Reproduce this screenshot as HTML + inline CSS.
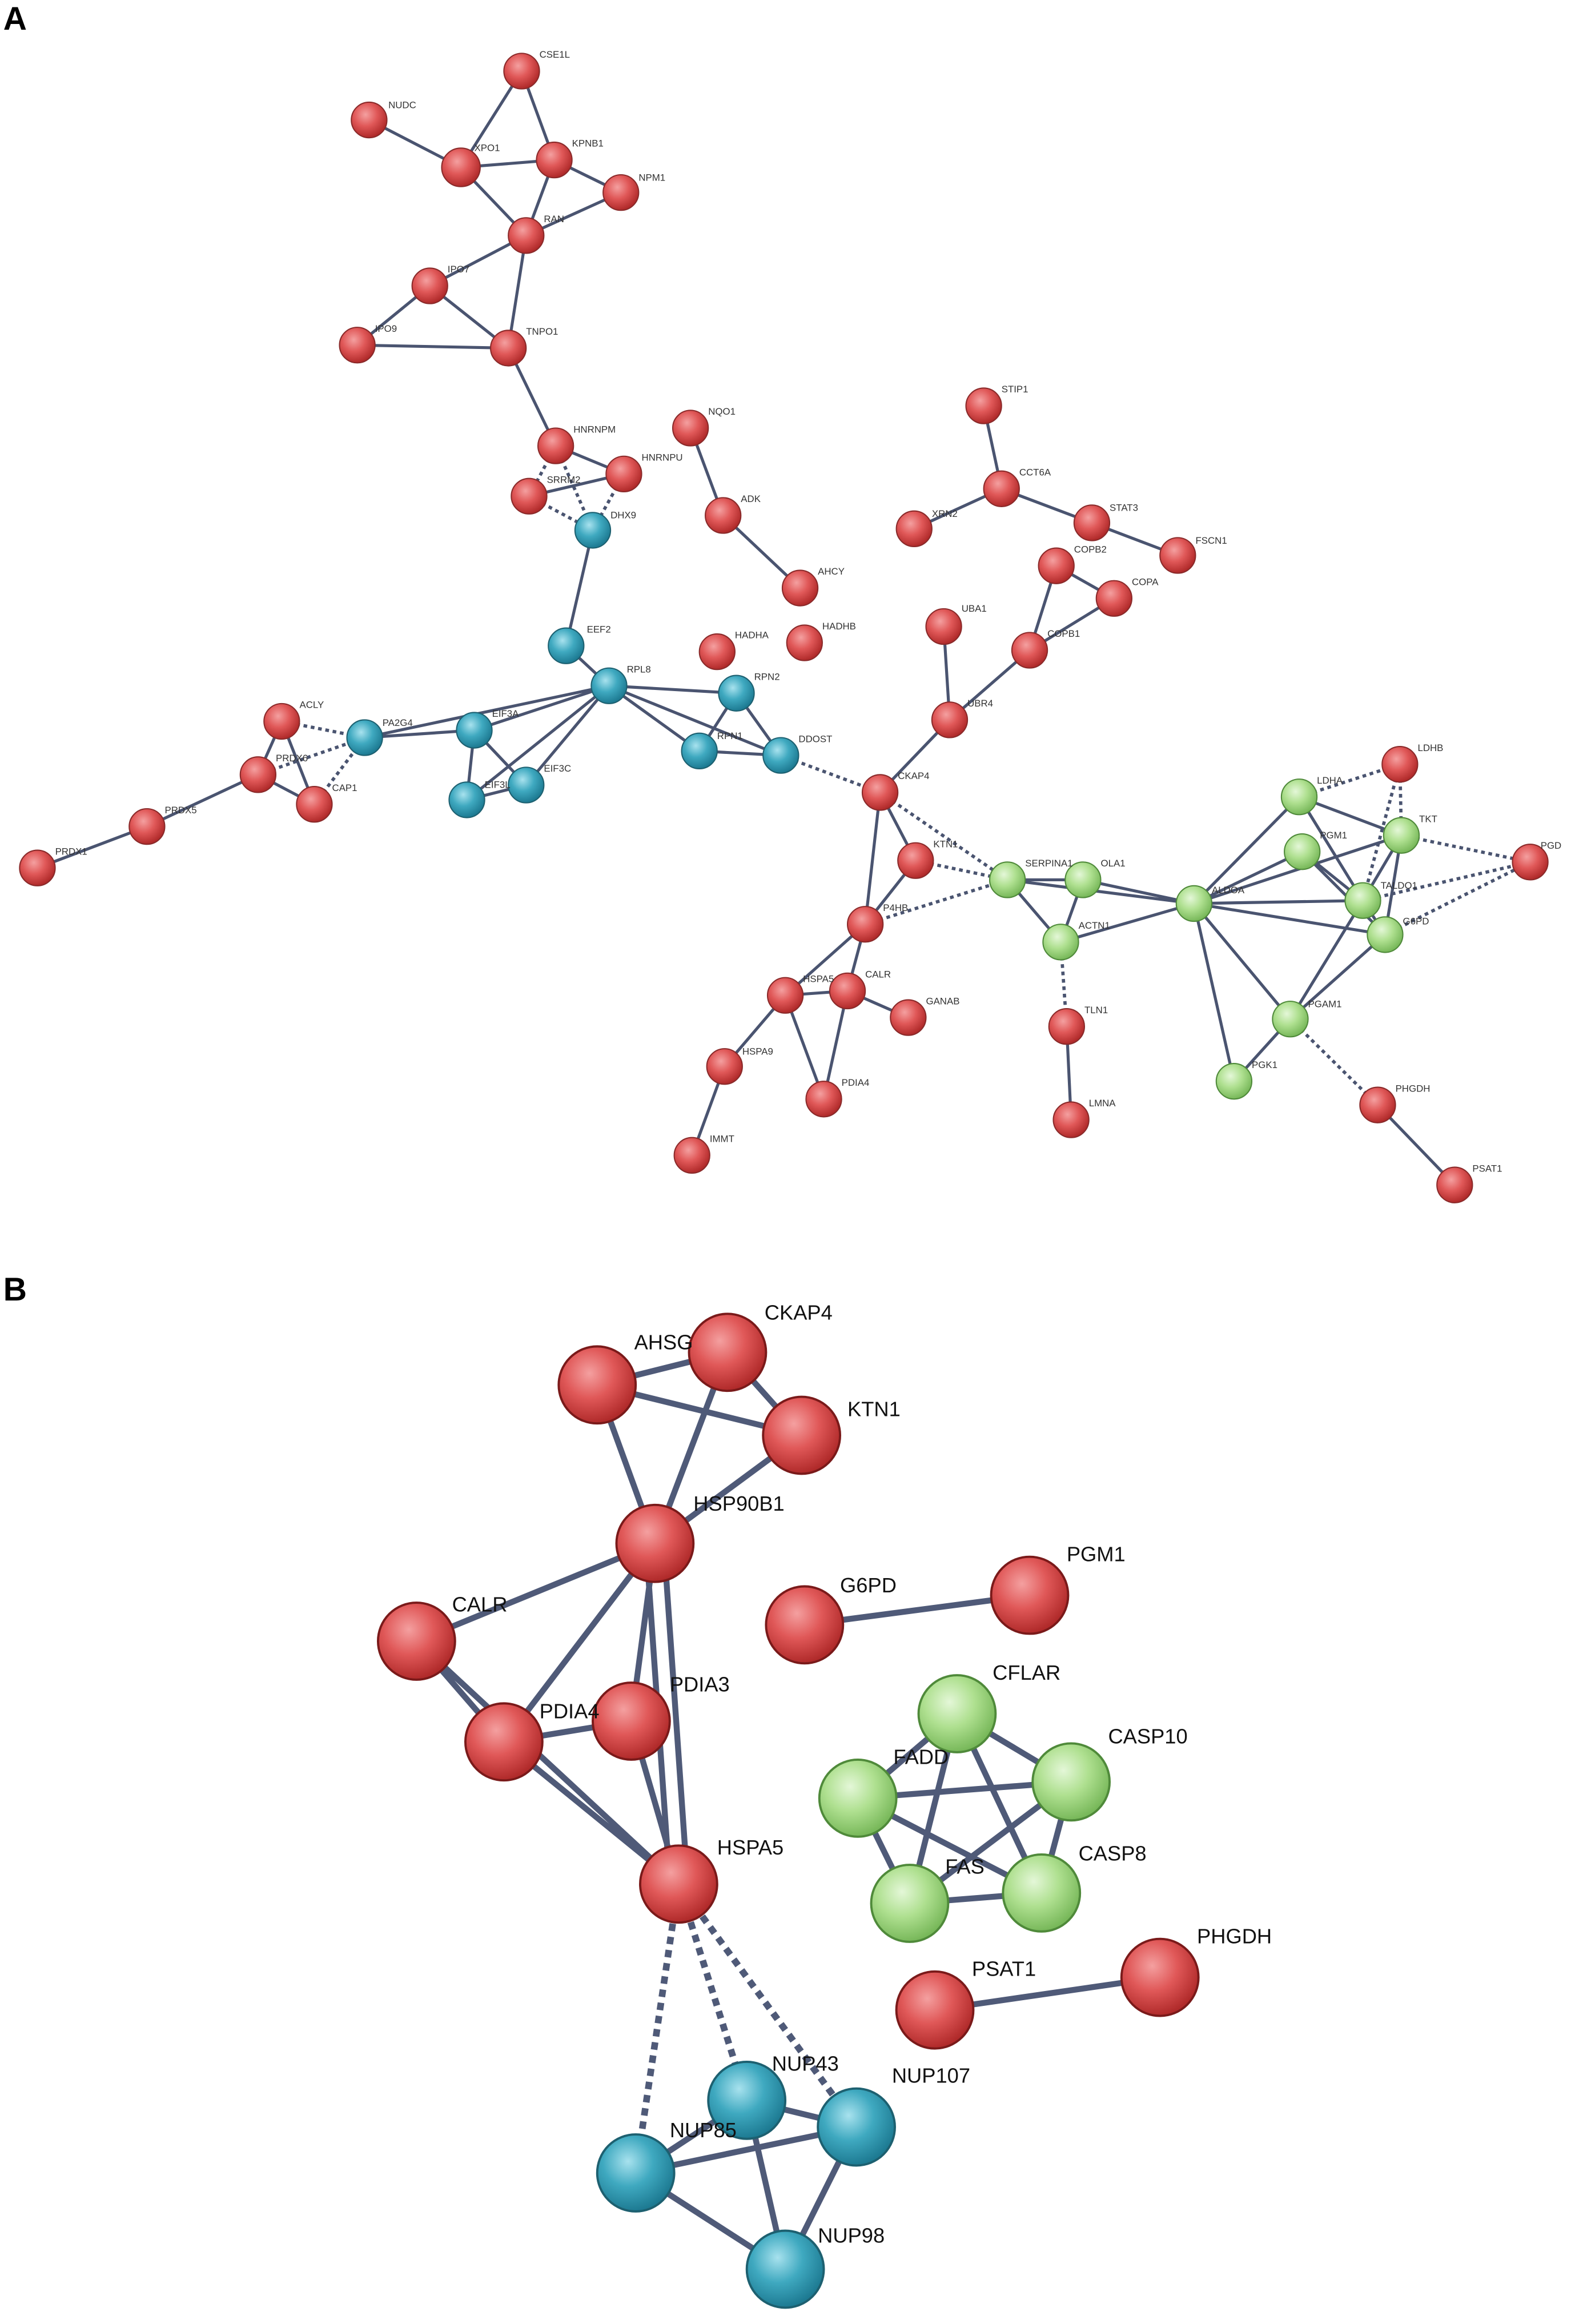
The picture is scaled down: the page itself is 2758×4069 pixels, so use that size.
<!DOCTYPE html>
<html><head><meta charset="utf-8"><style>
html,body{margin:0;padding:0;background:#fff;}
svg{display:block;}
text{font-family:"Liberation Sans",sans-serif;}
.a text{font-size:6.5px;fill:#333;}
.b text{font-size:14px;fill:#111;}
</style></head><body>
<svg width="2758" height="4069" viewBox="0 0 1063 1569" xmlns="http://www.w3.org/2000/svg">
<defs>
<radialGradient id="r" cx="40%" cy="35%" r="65%"><stop offset="0" stop-color="#f4a0a0"/><stop offset="0.5" stop-color="#e05858"/><stop offset="1" stop-color="#b02a2a"/></radialGradient>
<radialGradient id="g" cx="40%" cy="35%" r="65%"><stop offset="0" stop-color="#e4f7d8"/><stop offset="0.5" stop-color="#afe090"/><stop offset="1" stop-color="#78b85a"/></radialGradient>
<radialGradient id="b" cx="40%" cy="35%" r="65%"><stop offset="0" stop-color="#a8e2ee"/><stop offset="0.5" stop-color="#3fa9c0"/><stop offset="1" stop-color="#1d7a92"/></radialGradient>
</defs>
<text x="2" y="20" style="font-size:22px;font-weight:bold;font-family:'Liberation Sans',sans-serif">A</text>
<text x="2" y="878" style="font-size:22px;font-weight:bold;font-family:'Liberation Sans',sans-serif">B</text>

<g class="a">
<g stroke="#4a5470" stroke-width="2" fill="none">
<path d="M352 48L311 113M352 48L374 108M249 81L311 113M311 113L374 108M311 113L355 159M374 108L355 159M374 108L419 130M419 130L355 159M355 159L290 193M355 159L343 235M290 193L241 233M290 193L343 235M241 233L343 235M343 235L375 301M375 301L421 320M421 320L357 335M466 289L488 348M488 348L540 397M664 274L676 330M676 330L617 357M676 330L737 353M737 353L795 375M713 382L752 404M713 382L695 439M752 404L695 439M637 423L641 486M695 439L641 486M641 486L594 535M400 358L382 436M382 436L411 463M411 463L320 493M411 463L315 540M411 463L355 530M411 463L497 468M411 463L472 507M411 463L527 510M411 463L246 498M497 468L472 507M497 468L527 510M472 507L527 510M320 493L315 540M320 493L355 530M315 540L355 530M246 498L320 493M190 487L174 523M190 487L212 543M174 523L212 543M174 523L99 558M99 558L25 586M594 535L618 581M594 535L584 624M618 581L584 624M584 624L530 672M584 624L572 669M530 672L572 669M530 672L489 720M530 672L556 742M572 669L556 742M572 669L613 687M489 720L467 780M680 594L731 594M680 594L716 636M731 594L716 636M731 594L806 610M716 636L806 610M680 594L806 610M720 693L723 756M806 610L877 538M806 610L879 575M806 610L946 564M806 610L920 608M806 610L935 631M806 610L871 688M806 610L833 730M877 538L920 608M877 538L946 564M879 575L920 608M879 575L935 631M946 564L920 608M946 564L935 631M920 608L935 631M871 688L920 608M871 688L935 631M871 688L833 730M930 746L982 800"/>
</g>
<g stroke="#4a5470" stroke-width="2.2" fill="none" stroke-dasharray="2.5 2.5">
<path d="M375 301L357 335M375 301L400 358M357 335L400 358M421 320L400 358M527 510L594 535M190 487L246 498M174 523L246 498M212 543L246 498M594 535L680 594M618 581L680 594M584 624L680 594M716 636L720 693M877 538L945 516M945 516L946 564M945 516L920 608M946 564L1033 582M920 608L1033 582M935 631L1033 582M871 688L930 746"/>
</g>
<g stroke="#8a2a2a" stroke-width="0.8" fill="url(#r)">
<circle cx="352" cy="48" r="12"/><circle cx="249" cy="81" r="12"/><circle cx="311" cy="113" r="13"/><circle cx="374" cy="108" r="12"/><circle cx="419" cy="130" r="12"/><circle cx="355" cy="159" r="12"/><circle cx="290" cy="193" r="12"/><circle cx="241" cy="233" r="12"/><circle cx="343" cy="235" r="12"/><circle cx="375" cy="301" r="12"/><circle cx="421" cy="320" r="12"/><circle cx="357" cy="335" r="12"/><circle cx="466" cy="289" r="12"/><circle cx="488" cy="348" r="12"/><circle cx="540" cy="397" r="12"/><circle cx="664" cy="274" r="12"/><circle cx="676" cy="330" r="12"/><circle cx="617" cy="357" r="12"/><circle cx="737" cy="353" r="12"/><circle cx="795" cy="375" r="12"/><circle cx="713" cy="382" r="12"/><circle cx="752" cy="404" r="12"/><circle cx="695" cy="439" r="12"/><circle cx="637" cy="423" r="12"/><circle cx="484" cy="440" r="12"/><circle cx="543" cy="434" r="12"/><circle cx="641" cy="486" r="12"/><circle cx="594" cy="535" r="12"/><circle cx="190" cy="487" r="12"/><circle cx="174" cy="523" r="12"/><circle cx="212" cy="543" r="12"/><circle cx="99" cy="558" r="12"/><circle cx="25" cy="586" r="12"/><circle cx="618" cy="581" r="12"/><circle cx="584" cy="624" r="12"/><circle cx="530" cy="672" r="12"/><circle cx="572" cy="669" r="12"/><circle cx="613" cy="687" r="12"/><circle cx="489" cy="720" r="12"/><circle cx="556" cy="742" r="12"/><circle cx="467" cy="780" r="12"/><circle cx="720" cy="693" r="12"/><circle cx="723" cy="756" r="12"/><circle cx="945" cy="516" r="12"/><circle cx="1033" cy="582" r="12"/><circle cx="930" cy="746" r="12"/><circle cx="982" cy="800" r="12"/>
</g>
<g stroke="#4f8a3a" stroke-width="0.8" fill="url(#g)">
<circle cx="680" cy="594" r="12"/><circle cx="731" cy="594" r="12"/><circle cx="716" cy="636" r="12"/><circle cx="806" cy="610" r="12"/><circle cx="877" cy="538" r="12"/><circle cx="879" cy="575" r="12"/><circle cx="946" cy="564" r="12"/><circle cx="920" cy="608" r="12"/><circle cx="935" cy="631" r="12"/><circle cx="871" cy="688" r="12"/><circle cx="833" cy="730" r="12"/>
</g>
<g stroke="#1d6070" stroke-width="0.8" fill="url(#b)">
<circle cx="400" cy="358" r="12"/><circle cx="382" cy="436" r="12"/><circle cx="411" cy="463" r="12"/><circle cx="497" cy="468" r="12"/><circle cx="472" cy="507" r="12"/><circle cx="527" cy="510" r="12"/><circle cx="246" cy="498" r="12"/><circle cx="320" cy="493" r="12"/><circle cx="315" cy="540" r="12"/><circle cx="355" cy="530" r="12"/>
</g>
<text x="364" y="39">CSE1L</text><text x="262" y="73">NUDC</text><text x="320" y="102">XPO1</text><text x="386" y="99">KPNB1</text><text x="431" y="122">NPM1</text><text x="367" y="150">RAN</text><text x="302" y="184">IPO7</text><text x="253" y="224">IPO9</text><text x="355" y="226">TNPO1</text><text x="387" y="292">HNRNPM</text><text x="433" y="311">HNRNPU</text><text x="369" y="326">SRRM2</text><text x="412" y="350">DHX9</text><text x="478" y="280">NQO1</text><text x="500" y="339">ADK</text><text x="552" y="388">AHCY</text><text x="676" y="265">STIP1</text><text x="688" y="321">CCT6A</text><text x="629" y="349">XRN2</text><text x="749" y="345">STAT3</text><text x="807" y="367">FSCN1</text><text x="725" y="373">COPB2</text><text x="764" y="395">COPA</text><text x="707" y="430">COPB1</text><text x="649" y="413">UBA1</text><text x="496" y="431">HADHA</text><text x="555" y="425">HADHB</text><text x="396" y="427">EEF2</text><text x="423" y="454">RPL8</text><text x="509" y="459">RPN2</text><text x="484" y="499">RPN1</text><text x="539" y="501">DDOST</text><text x="653" y="477">UBR4</text><text x="606" y="526">CKAP4</text><text x="202" y="478">ACLY</text><text x="258" y="490">PA2G4</text><text x="332" y="484">EIF3A</text><text x="186" y="514">PRDX6</text><text x="224" y="534">CAP1</text><text x="327" y="532">EIF3L</text><text x="367" y="521">EIF3C</text><text x="111" y="549">PRDX5</text><text x="37" y="577">PRDX1</text><text x="630" y="572">KTN1</text><text x="596" y="615">P4HB</text><text x="692" y="585">SERPINA1</text><text x="743" y="585">OLA1</text><text x="728" y="627">ACTN1</text><text x="818" y="603">ALDOA</text><text x="889" y="529">LDHA</text><text x="957" y="507">LDHB</text><text x="891" y="566">PGM1</text><text x="958" y="555">TKT</text><text x="932" y="600">TALDO1</text><text x="947" y="624">G6PD</text><text x="1040" y="573">PGD</text><text x="883" y="680">PGAM1</text><text x="845" y="721">PGK1</text><text x="942" y="737">PHGDH</text><text x="994" y="791">PSAT1</text><text x="542" y="663">HSPA5</text><text x="584" y="660">CALR</text><text x="625" y="678">GANAB</text><text x="501" y="712">HSPA9</text><text x="568" y="733">PDIA4</text><text x="479" y="771">IMMT</text><text x="732" y="684">TLN1</text><text x="735" y="747">LMNA</text>
</g>

<g class="b">
<g stroke="#4f5a78" stroke-width="4" fill="none">
<path d="M403 935L491 913M403 935L541 969M403 935L442 1042M491 913L541 969M491 913L442 1042M541 969L442 1042M442 1042L281 1108M442 1042L340 1176M442 1042L426 1162M436 1042L452 1272M448 1042L464 1272M281 1108L340 1176M281 1108L458 1272M340 1176L458 1272M426 1162L458 1272M340 1176L426 1162M543 1097L695 1077M646 1157L723 1203M646 1157L579 1214M646 1157L614 1285M646 1157L703 1278M579 1214L723 1203M579 1214L614 1285M579 1214L703 1278M723 1203L614 1285M723 1203L703 1278M614 1285L703 1278M631 1357L783 1335M504 1418L429 1467M504 1418L578 1436M504 1418L530 1532M429 1467L578 1436M429 1467L530 1532M578 1436L530 1532"/>
</g>
<g stroke="#4f5a78" stroke-width="4.5" fill="none" stroke-dasharray="5 4">
<path d="M458 1272L429 1467M458 1272L504 1418M458 1272L578 1436"/>
</g>
<g stroke="#7a1a1a" stroke-width="1.5" fill="url(#r)">
<circle cx="403" cy="935" r="26"/><circle cx="491" cy="913" r="26"/><circle cx="541" cy="969" r="26"/><circle cx="442" cy="1042" r="26"/><circle cx="281" cy="1108" r="26"/><circle cx="340" cy="1176" r="26"/><circle cx="426" cy="1162" r="26"/><circle cx="458" cy="1272" r="26"/><circle cx="543" cy="1097" r="26"/><circle cx="695" cy="1077" r="26"/><circle cx="631" cy="1357" r="26"/><circle cx="783" cy="1335" r="26"/>
</g>
<g stroke="#4f8a3a" stroke-width="1.5" fill="url(#g)">
<circle cx="646" cy="1157" r="26"/><circle cx="723" cy="1203" r="26"/><circle cx="579" cy="1214" r="26"/><circle cx="614" cy="1285" r="26"/><circle cx="703" cy="1278" r="26"/>
</g>
<g stroke="#1d6070" stroke-width="1.5" fill="url(#b)">
<circle cx="504" cy="1418" r="26"/><circle cx="578" cy="1436" r="26"/><circle cx="429" cy="1467" r="26"/><circle cx="530" cy="1532" r="26"/>
</g>
<text x="428" y="911">AHSG</text><text x="516" y="891">CKAP4</text><text x="572" y="956">KTN1</text><text x="468" y="1020">HSP90B1</text><text x="305" y="1088">CALR</text><text x="364" y="1160">PDIA4</text><text x="452" y="1142">PDIA3</text><text x="484" y="1252">HSPA5</text><text x="567" y="1075">G6PD</text><text x="720" y="1054">PGM1</text><text x="670" y="1134">CFLAR</text><text x="748" y="1177">CASP10</text><text x="603" y="1191">FADD</text><text x="638" y="1265">FAS</text><text x="728" y="1256">CASP8</text><text x="656" y="1334">PSAT1</text><text x="808" y="1312">PHGDH</text><text x="521" y="1398">NUP43</text><text x="602" y="1406">NUP107</text><text x="452" y="1443">NUP85</text><text x="552" y="1514">NUP98</text>
</g>
</svg>
</body></html>
